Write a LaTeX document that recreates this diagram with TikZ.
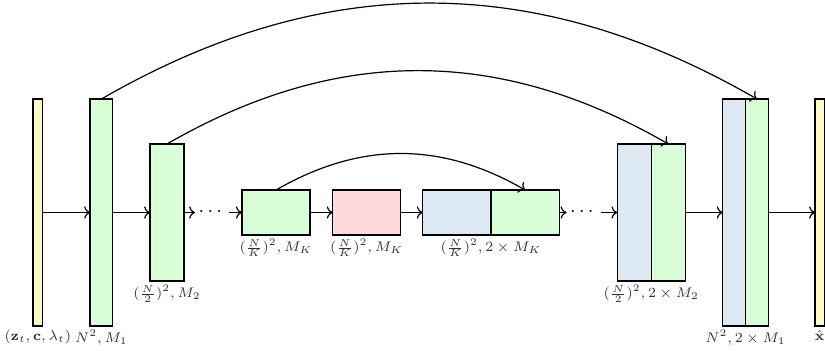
\documentclass[tikz,border=0pt]{standalone}
\usepackage{amsmath}
\usetikzlibrary{arrows.meta}
\definecolor{cyel}{HTML}{FFF9C6}
\definecolor{cgrn}{HTML}{D9FFD9}
\definecolor{cred}{HTML}{FFD9DB}
\definecolor{cblu}{HTML}{DCE9F3}
\begin{document}
\begin{tikzpicture}[x=0.5pt,y=-0.5pt,
  blk/.style={draw=black,line width=0.7pt,inner sep=0pt,outer sep=0pt},
  lab/.style={font=\fontsize{7.4}{9}\selectfont,text=black!80,inner sep=1pt,anchor=north},
  conn/.style={->,line width=0.6pt},
  dotsnode/.style={inner sep=0pt,outer sep=0pt,minimum width=17pt,minimum height=6pt}]
\useasboundingbox (0,0) rectangle (825,350);
% boxes
\node[blk,fill=cyel,minimum width=4.75pt,minimum height=113.5pt] (in) at (37.9,212.5) {};
\node[blk,fill=cgrn,minimum width=11.35pt,minimum height=113.5pt] (e1) at (101.4,212.5) {};
\node[blk,fill=cgrn,minimum width=17pt,minimum height=68.5pt] (e2) at (167,212.5) {};
\node[dotsnode] (d1) at (212,212.5) {$\cdots$};
\node[blk,fill=cgrn,minimum width=34.15pt,minimum height=22.5pt] (k1) at (276,212.5) {};
\node[blk,fill=cred,minimum width=34pt,minimum height=22.5pt] (km) at (366.7,212.5) {};
\node[blk,fill=cblu,minimum width=34.15pt,minimum height=22.5pt] (kb) at (456.85,212.5) {};
\node[blk,fill=cgrn,minimum width=34.15pt,minimum height=22.5pt] (kg) at (525.15,212.5) {};
\node[dotsnode] (d2) at (583.5,212.5) {$\cdots$};
\node[blk,fill=cblu,minimum width=17pt,minimum height=68.5pt] (u2b) at (634.3,212.5) {};
\node[blk,fill=cgrn,minimum width=17pt,minimum height=68.5pt] (u2g) at (668.3,212.5) {};
\node[blk,fill=cblu,minimum width=11.4pt,minimum height=113.5pt] (u1b) at (734.1,212.5) {};
\node[blk,fill=cgrn,minimum width=11.4pt,minimum height=113.5pt] (u1g) at (756.9,212.5) {};
\node[blk,fill=cyel,minimum width=4.75pt,minimum height=113.5pt] (out) at (819.75,212.5) {};
% labels
\node[lab] (lin) at ([yshift=-1pt]in.south) {$(\mathbf{z}_t,\mathbf{c},\lambda_t)$};
\node[lab] (le1) at ([yshift=-1pt]e1.south) {$N^2, M_1$};
\node[lab] (le2) at ([yshift=-1pt]e2.south) {$(\frac{N}{2})^2, M_2$};
\node[lab] (lk1) at ([yshift=-1pt]k1.south) {$(\frac{N}{K})^2, M_K$};
\node[lab] (lkm) at ([yshift=-1pt]km.south) {$(\frac{N}{K})^2, M_K$};
\node[lab] (lkk) at ([yshift=-1pt]kb.south east) {$(\frac{N}{K})^2, 2\times M_K$};
\node[lab] (lu2) at ([yshift=-1pt]u2b.south east) {$(\frac{N}{2})^2, 2\times M_2$};
\node[lab] (lu1) at ([yshift=-1pt]u1b.south east) {$N^2, 2\times M_1$};
\node[lab] (lout) at ([yshift=-1pt]out.south) {$\hat{\mathbf{x}}$};
% connectors
\draw[conn] (in) -- (e1);
\draw[conn] (e1) -- (e2);
\draw[conn] (e2) -- (d1);
\draw[conn] (d1) -- (k1);
\draw[conn] (k1) -- (km);
\draw[conn] (km) -- (kb);
\draw[conn] (kg) -- (d2);
\draw[conn] (d2) -- (u2b);
\draw[conn] (u2g) -- (u1b);
\draw[conn] (u1g) -- (out);
% skip connections
\draw[conn] (e1.north) to[bend left=30] (u1g.north);
\draw[conn] (e2.north) to[bend left=30] (u2g.north);
\draw[conn] (k1.north) to[bend left=30] (kg.north);
\end{tikzpicture}
\end{document}
